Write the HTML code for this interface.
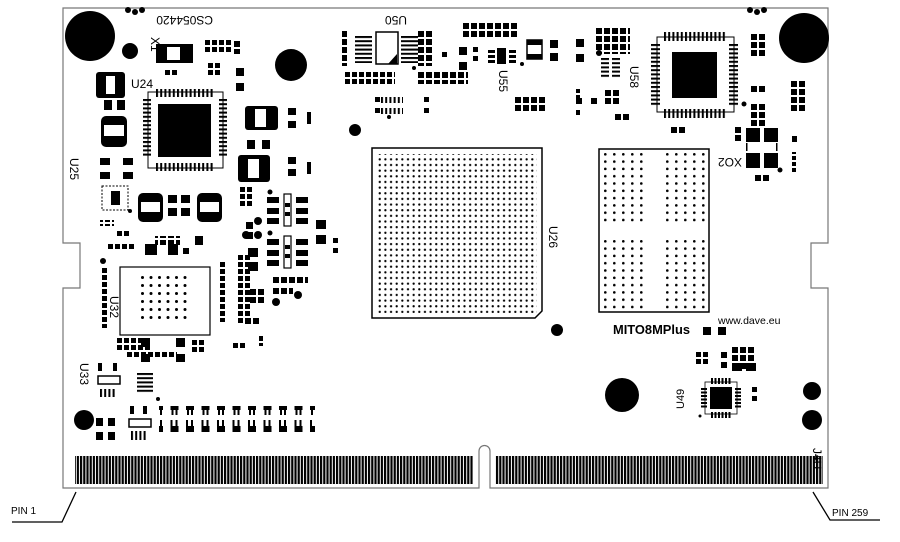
<!DOCTYPE html>
<html><head><meta charset="utf-8"><style>
html,body{margin:0;padding:0;background:#fff;width:900px;height:542px;overflow:hidden}
svg{display:block}
text{font-family:"Liberation Sans",sans-serif;fill:#000}
</style></head><body>
<svg width="900" height="542" viewBox="0 0 900 542" xmlns="http://www.w3.org/2000/svg">
<defs>
<pattern id="p7" width="7" height="7" patternUnits="userSpaceOnUse"><rect width="5" height="5" fill="#000"/></pattern>
<pattern id="p8" width="8" height="8" patternUnits="userSpaceOnUse"><rect width="6" height="6" fill="#000"/></pattern>
<pattern id="p6" width="6" height="6" patternUnits="userSpaceOnUse"><rect width="4" height="4" fill="#000"/></pattern>
<pattern id="bga" width="5.65" height="5.65" patternUnits="userSpaceOnUse"><circle cx="1.2" cy="1.2" r="1.15" fill="#000"/></pattern>
<pattern id="bgb" width="9" height="7.3" patternUnits="userSpaceOnUse"><circle cx="1.3" cy="1.3" r="1.3" fill="#000"/></pattern>
<pattern id="u32" width="8.5" height="8" patternUnits="userSpaceOnUse"><circle cx="1.5" cy="1.5" r="1.5" fill="#000"/></pattern>
<pattern id="fg" width="3.2" height="40" patternUnits="userSpaceOnUse"><rect width="2.2" height="40" fill="#000"/></pattern>
<pattern id="pinv" width="4.2" height="10" patternUnits="userSpaceOnUse"><rect width="2" height="10" fill="#000"/></pattern>
<pattern id="pinh" width="10" height="4.2" patternUnits="userSpaceOnUse"><rect width="10" height="2" fill="#000"/></pattern>
<pattern id="pinv2" width="3.5" height="10" patternUnits="userSpaceOnUse"><rect width="2" height="10" fill="#000"/></pattern>
<pattern id="pinh2" width="10" height="3.5" patternUnits="userSpaceOnUse"><rect width="10" height="2" fill="#000"/></pattern>
<pattern id="tr" width="15.5" height="30" patternUnits="userSpaceOnUse"><rect x="0" y="0" width="2" height="6" fill="#000"/><rect x="5" y="0" width="2" height="6" fill="#000"/><rect x="-0.5" y="6" width="8.5" height="6" fill="#000"/><rect x="0" y="15" width="8" height="5" fill="#000"/><rect x="1" y="20" width="2" height="5" fill="#000"/><rect x="5" y="20" width="2" height="5" fill="#000"/></pattern>
</defs>

<path d="M63,8 H828 V243 H811 V288 H828 V488 H490 V451 A5.5,5.5 0 0 0 479,451 V488 H63 V288 H80 V243 H63 Z" fill="#fff" stroke="#777" stroke-width="1.2"/>

<rect x="75" y="456" width="398" height="28" fill="url(#fg)"/>
<rect x="495" y="456" width="328" height="28" fill="url(#fg)"/>

<polyline points="76,492 62,522 12,522" fill="none" stroke="#000" stroke-width="1.3"/>
<text x="11" y="514" font-size="10">PIN 1</text>
<polyline points="813,492 830,520 880,520" fill="none" stroke="#000" stroke-width="1.3"/>
<text x="832" y="516" font-size="10">PIN 259</text>

<circle cx="90" cy="36" r="25" fill="#000"/>
<circle cx="804" cy="38" r="25" fill="#000"/>
<circle cx="130" cy="51" r="8" fill="#000"/>
<circle cx="291" cy="65" r="16" fill="#000"/>
<circle cx="355" cy="130" r="6" fill="#000"/>
<circle cx="557" cy="330" r="6" fill="#000"/>
<circle cx="622" cy="395" r="17" fill="#000"/>
<circle cx="812" cy="391" r="9" fill="#000"/>
<circle cx="812" cy="420" r="10" fill="#000"/>
<circle cx="84" cy="420" r="10" fill="#000"/>
<circle cx="128" cy="10" r="3" fill="#000"/><circle cx="135" cy="12" r="3" fill="#000"/><circle cx="142" cy="10" r="3" fill="#000"/>
<circle cx="750" cy="10" r="3" fill="#000"/><circle cx="757" cy="12" r="3" fill="#000"/><circle cx="764" cy="10" r="3" fill="#000"/>

<text font-size="12" transform="translate(213,16) rotate(180)">CS054420</text>
<text font-size="12" transform="translate(151,37) rotate(90)">X1</text>
<text x="131" y="88" font-size="12">U24</text>
<text font-size="12" transform="translate(70,158) rotate(90)">U25</text>
<text font-size="12" transform="translate(110,296) rotate(90)">U32</text>
<text font-size="12" transform="translate(80,363) rotate(90)">U33</text>
<text font-size="12" transform="translate(407,16) rotate(180)">U50</text>
<text font-size="12" transform="translate(499,70) rotate(90)">U55</text>
<text font-size="12" transform="translate(630,66) rotate(90)">U58</text>
<text font-size="12" transform="translate(742,158) rotate(180)">XO2</text>
<text font-size="12" transform="translate(549,226) rotate(90)">U26</text>
<text font-size="11" transform="translate(684,409) rotate(-90)">U49</text>
<text font-size="12" transform="translate(813,448) rotate(90)">J4U</text>
<text x="613" y="334" font-size="13" font-weight="bold" textLength="77" lengthAdjust="spacingAndGlyphs">MITO8MPlus</text>
<text x="718" y="324" font-size="10.5">www.dave.eu</text>

<path d="M372,148 H542 V311 L535,318 H372 Z" fill="#fff" stroke="#000" stroke-width="1.5"/>
<rect x="378" y="154" width="159" height="159" fill="url(#bga)"/>
<rect x="599" y="149" width="110" height="163" fill="#fff" stroke="#000" stroke-width="1.5"/>
<g transform="translate(604,153)"><rect width="40" height="73" fill="url(#bgb)"/></g>
<g transform="translate(666,153)"><rect width="40" height="73" fill="url(#bgb)"/></g>
<g transform="translate(604,240)"><rect width="40" height="70" fill="url(#bgb)"/></g>
<g transform="translate(666,240)"><rect width="40" height="70" fill="url(#bgb)"/></g>

<g>
<rect x="148" y="92" width="75" height="76" fill="none" stroke="#000" stroke-width="1"/>
<g transform="translate(156,89)"><rect width="58" height="8" fill="url(#pinv)"/></g>
<g transform="translate(156,163)"><rect width="58" height="8" fill="url(#pinv)"/></g>
<g transform="translate(143,99)"><rect width="8" height="58" fill="url(#pinh)"/></g>
<g transform="translate(219,99)"><rect width="8" height="58" fill="url(#pinh)"/></g>
<rect x="158" y="104" width="53" height="53" fill="#000"/>
</g>
<g>
<rect x="657" y="37" width="77" height="75" fill="none" stroke="#000" stroke-width="1"/>
<g transform="translate(664,32)"><rect width="62" height="9" fill="url(#pinv)"/></g>
<g transform="translate(664,109)"><rect width="62" height="9" fill="url(#pinv)"/></g>
<g transform="translate(651,44)"><rect width="9" height="62" fill="url(#pinh)"/></g>
<g transform="translate(729,44)"><rect width="9" height="62" fill="url(#pinh)"/></g>
<rect x="672" y="52" width="45" height="46" fill="#000"/>
</g>
<g>
<rect x="705" y="382" width="32" height="32" fill="none" stroke="#000" stroke-width="0.8"/>
<g transform="translate(711,378)"><rect width="20" height="6" fill="url(#pinv2)"/></g>
<g transform="translate(711,412)"><rect width="20" height="6" fill="url(#pinv2)"/></g>
<g transform="translate(701,388)"><rect width="6" height="20" fill="url(#pinh2)"/></g>
<g transform="translate(735,388)"><rect width="6" height="20" fill="url(#pinh2)"/></g>
<rect x="710" y="387" width="22" height="22" fill="#000"/>
<circle cx="700" cy="416" r="1.5" fill="#000"/>
</g>
<rect x="752" y="387" width="5" height="5" fill="#000"/><rect x="752" y="396" width="5" height="5" fill="#000"/>

<rect x="120" y="267" width="90" height="68" fill="#fff" stroke="#000" stroke-width="1.2"/>
<g transform="translate(141,276)"><rect width="46" height="48" fill="url(#u32)"/></g>

<rect x="156" y="44" width="37" height="19" fill="#000"/><rect x="167" y="47" width="13" height="13" fill="#fff"/>
<rect x="96" y="72" width="29" height="26" rx="3" fill="#000"/><rect x="106" y="76" width="9" height="18" fill="#fff"/>
<rect x="101" y="116" width="26" height="31" rx="5" fill="#000"/><rect x="104" y="125" width="20" height="11" fill="#fff"/>
<rect x="138" y="193" width="25" height="29" rx="5" fill="#000"/><rect x="141" y="202" width="19" height="10" fill="#fff"/>
<rect x="197" y="193" width="25" height="29" rx="5" fill="#000"/><rect x="200" y="202" width="19" height="10" fill="#fff"/>
<rect x="245" y="106" width="33" height="24" rx="3" fill="#000"/><rect x="255" y="109" width="11" height="18" fill="#fff"/>
<rect x="238" y="155" width="32" height="27" rx="3" fill="#000"/><rect x="248" y="159" width="11" height="19" fill="#fff"/>
<rect x="102" y="186" width="26" height="24" fill="#fff" stroke="#000" stroke-width="1" stroke-dasharray="2 1.5"/>
<rect x="111" y="191" width="9" height="14" fill="#000"/>
<circle cx="130" cy="211" r="2" fill="#000"/>

<g transform="translate(205,40)"><rect width="28" height="14" fill="url(#p7)"/></g>
<rect x="234" y="41" width="6" height="6" fill="#000"/><rect x="234" y="49" width="6" height="5" fill="#000"/>
<g transform="translate(165,70)"><rect width="14" height="7" fill="url(#p7)"/></g>
<g transform="translate(208,63)"><rect width="14" height="14" fill="url(#p7)"/></g>
<rect x="236" y="68" width="8" height="8" fill="#000"/><rect x="236" y="83" width="8" height="8" fill="#000"/>
<rect x="104" y="100" width="8" height="10" fill="#000"/><rect x="117" y="100" width="8" height="10" fill="#000"/>
<rect x="100" y="158" width="10" height="7" fill="#000"/><rect x="100" y="172" width="10" height="7" fill="#000"/>
<rect x="123" y="158" width="10" height="7" fill="#000"/><rect x="123" y="172" width="10" height="7" fill="#000"/>
<rect x="168" y="195" width="9" height="8" fill="#000"/><rect x="181" y="195" width="9" height="8" fill="#000"/>
<rect x="168" y="208" width="9" height="8" fill="#000"/><rect x="181" y="208" width="9" height="8" fill="#000"/>
<rect x="288" y="108" width="8" height="7" fill="#000"/><rect x="288" y="121" width="8" height="7" fill="#000"/><rect x="307" y="112" width="4" height="12" fill="#000"/>
<rect x="288" y="157" width="8" height="7" fill="#000"/><rect x="288" y="169" width="8" height="7" fill="#000"/><rect x="307" y="162" width="4" height="12" fill="#000"/>
<rect x="247" y="140" width="8" height="9" fill="#000"/><rect x="262" y="140" width="8" height="9" fill="#000"/>
<rect x="100" y="220" width="14" height="6" fill="url(#p7)"/>
<g transform="translate(117,231)"><rect width="14" height="7" fill="url(#p7)"/></g>
<rect x="155" y="236" width="25" height="9" fill="url(#p8)"/>
<rect x="195" y="236" width="8" height="9" fill="#000"/>
<g transform="translate(108,244)"><rect width="28" height="7" fill="url(#p7)"/></g>
<rect x="145" y="244" width="12" height="11" fill="#000"/><rect x="168" y="244" width="10" height="11" fill="#000"/><rect x="183" y="248" width="6" height="6" fill="#000"/>
<g transform="translate(102,268)"><rect width="6" height="60" fill="url(#p7)"/></g>
<circle cx="103" cy="261" r="3" fill="#000"/>
<g transform="translate(117,338)"><rect width="35" height="14" fill="url(#p7)"/></g>
<rect x="141" y="338" width="9" height="9" fill="#000"/><rect x="176" y="338" width="9" height="9" fill="#000"/>
<g transform="translate(127,352)"><rect width="50" height="7" fill="url(#p7)"/></g>
<rect x="141" y="354" width="9" height="8" fill="#000"/><rect x="176" y="354" width="9" height="8" fill="#000"/>
<g transform="translate(192,340)"><rect width="14" height="14" fill="url(#p7)"/></g>
<g transform="translate(233,343)"><rect width="14" height="7" fill="url(#p7)"/></g>
<rect x="258" y="334" width="5" height="12" fill="url(#p7)"/>
<g transform="translate(220,262)"><rect width="7" height="60" fill="url(#p7)"/></g>
<g transform="translate(238,255)"><rect width="14" height="70" fill="url(#p7)"/></g>
<g transform="translate(240,187)"><rect width="14" height="21" fill="url(#p7)"/></g>
<rect x="246" y="222" width="7" height="7" fill="#000"/><rect x="246" y="232" width="7" height="7" fill="#000"/>
<circle cx="258" cy="235" r="4" fill="#000"/><circle cx="258" cy="221" r="4" fill="#000"/><circle cx="246" cy="235" r="4" fill="#000"/>
<circle cx="270" cy="192" r="2.5" fill="#000"/><circle cx="270" cy="233" r="2.5" fill="#000"/>
<rect x="248" y="248" width="10" height="9" fill="#000"/><rect x="248" y="262" width="10" height="9" fill="#000"/>
<rect x="267" y="197" width="12" height="6" fill="#000"/><rect x="267" y="208" width="12" height="6" fill="#000"/><rect x="267" y="218" width="12" height="6" fill="#000"/>
<rect x="296" y="197" width="12" height="6" fill="#000"/><rect x="296" y="208" width="12" height="6" fill="#000"/><rect x="296" y="218" width="12" height="6" fill="#000"/>
<rect x="284" y="194" width="7" height="32" fill="#fff" stroke="#000" stroke-width="1.2"/><rect x="285" y="203" width="5" height="4" fill="#000"/><rect x="285" y="212" width="5" height="4" fill="#000"/>
<rect x="267" y="239" width="12" height="6" fill="#000"/><rect x="267" y="250" width="12" height="6" fill="#000"/><rect x="267" y="260" width="12" height="6" fill="#000"/>
<rect x="296" y="239" width="12" height="6" fill="#000"/><rect x="296" y="250" width="12" height="6" fill="#000"/><rect x="296" y="260" width="12" height="6" fill="#000"/>
<rect x="284" y="236" width="7" height="32" fill="#fff" stroke="#000" stroke-width="1.2"/><rect x="285" y="245" width="5" height="4" fill="#000"/><rect x="285" y="254" width="5" height="4" fill="#000"/>
<rect x="316" y="220" width="10" height="9" fill="#000"/><rect x="316" y="235" width="10" height="9" fill="#000"/>
<rect x="333" y="238" width="5" height="5" fill="#000"/><rect x="333" y="248" width="5" height="5" fill="#000"/>
<g transform="translate(273,277)"><rect width="35" height="7" fill="url(#p8)"/></g>
<g transform="translate(273,288)"><rect width="20" height="7" fill="url(#p8)"/></g>
<circle cx="298" cy="295" r="4" fill="#000"/><circle cx="276" cy="302" r="4" fill="#000"/>
<g transform="translate(250,289)"><rect width="16" height="16" fill="url(#p8)"/></g>
<g transform="translate(245,318)"><rect width="16" height="7" fill="url(#p8)"/></g>
<rect x="98" y="363" width="4" height="8" fill="#000"/><rect x="113" y="363" width="4" height="8" fill="#000"/>
<rect x="98" y="376" width="22" height="8" fill="#fff" stroke="#000" stroke-width="1.5"/>
<g transform="translate(100,389)"><rect width="16" height="8" fill="url(#pinv)"/></g>
<g transform="translate(137,373)"><rect width="16" height="20" fill="url(#pinh)"/></g>
<circle cx="158" cy="399" r="2" fill="#000"/>
<rect x="96" y="418" width="7" height="8" fill="#000"/><rect x="108" y="418" width="7" height="8" fill="#000"/>
<rect x="96" y="432" width="7" height="8" fill="#000"/><rect x="108" y="432" width="7" height="8" fill="#000"/>
<rect x="130" y="406" width="4" height="8" fill="#000"/><rect x="143" y="406" width="4" height="8" fill="#000"/>
<rect x="129" y="419" width="22" height="8" fill="#fff" stroke="#000" stroke-width="1.5"/>
<g transform="translate(131,431)"><rect width="16" height="9" fill="url(#pinv)"/></g>
<rect x="159" y="406" width="156" height="26" fill="url(#tr)"/>

<rect x="376" y="32" width="22" height="32" fill="#fff" stroke="#000" stroke-width="1.5"/>
<path d="M388,64 L397,54 V64 Z" fill="#000"/>
<g transform="translate(355,36)"><rect width="17" height="27" fill="url(#pinh)"/></g>
<g transform="translate(401,36)"><rect width="17" height="27" fill="url(#pinh)"/></g>
<g transform="translate(342,31)"><rect width="5" height="35" fill="url(#p8)"/></g>
<circle cx="414" cy="68" r="2" fill="#000"/>
<g transform="translate(345,72)"><rect width="50" height="12" fill="url(#p7)"/></g>
<g transform="translate(418,31)"><rect width="14" height="35" fill="url(#p8)"/></g>
<rect x="442" y="52" width="5" height="5" fill="#000"/>
<g transform="translate(418,72)"><rect width="50" height="12" fill="url(#p8)"/></g>
<g transform="translate(381,97)"><rect width="22" height="6" fill="url(#pinv)"/></g>
<g transform="translate(381,108)"><rect width="22" height="6" fill="url(#pinv)"/></g>
<rect x="375" y="97" width="5" height="5" fill="#000"/><rect x="375" y="108" width="5" height="5" fill="#000"/>
<rect x="424" y="97" width="5" height="5" fill="#000"/><rect x="424" y="108" width="5" height="5" fill="#000"/>
<circle cx="389" cy="117" r="2" fill="#000"/>
<g transform="translate(463,23)"><rect width="56" height="14" fill="url(#p8)"/></g>
<rect x="459" y="47" width="8" height="8" fill="#000"/><rect x="459" y="62" width="8" height="8" fill="#000"/>
<rect x="473" y="47" width="5" height="5" fill="#000"/><rect x="473" y="56" width="5" height="5" fill="#000"/>
<rect x="488" y="50" width="7" height="3" fill="#000"/><rect x="488" y="55" width="7" height="3" fill="#000"/><rect x="488" y="60" width="7" height="3" fill="#000"/>
<rect x="497" y="48" width="9" height="16" fill="#000"/>
<rect x="509" y="50" width="7" height="3" fill="#000"/><rect x="509" y="55" width="7" height="3" fill="#000"/><rect x="509" y="60" width="7" height="3" fill="#000"/>
<circle cx="522" cy="64" r="2" fill="#000"/>
<rect x="527" y="40" width="15" height="19" fill="#fff" stroke="#000" stroke-width="1.5"/>
<rect x="527" y="40" width="15" height="5" fill="#000"/><rect x="527" y="54" width="15" height="5" fill="#000"/>
<rect x="550" y="40" width="8" height="8" fill="#000"/><rect x="550" y="53" width="8" height="8" fill="#000"/>
<g transform="translate(515,97)"><rect width="32" height="14" fill="url(#p8)"/></g>
<rect x="576" y="89" width="4" height="4" fill="#000"/><rect x="576" y="95" width="4" height="4" fill="#000"/><rect x="576" y="110" width="4" height="5" fill="#000"/>
<g transform="translate(596,28)"><rect width="34" height="26" fill="url(#p8)"/></g>
<circle cx="599" cy="53" r="3" fill="#000"/>
<g transform="translate(601,58)"><rect width="8" height="20" fill="url(#pinh)"/></g>
<g transform="translate(612,58)"><rect width="8" height="20" fill="url(#pinh)"/></g>
<g transform="translate(605,90)"><rect width="16" height="16" fill="url(#p8)"/></g>
<g transform="translate(615,114)"><rect width="16" height="7" fill="url(#p8)"/></g>
<rect x="576" y="39" width="8" height="8" fill="#000"/><rect x="576" y="54" width="8" height="8" fill="#000"/>
<rect x="576" y="98" width="6" height="6" fill="#000"/><rect x="591" y="98" width="6" height="6" fill="#000"/>
<g transform="translate(671,127)"><rect width="16" height="7" fill="url(#p8)"/></g>
<g transform="translate(751,34)"><rect width="16" height="24" fill="url(#p8)"/></g>
<g transform="translate(751,86)"><rect width="16" height="7" fill="url(#p8)"/></g>
<g transform="translate(751,104)"><rect width="16" height="24" fill="url(#p8)"/></g>
<circle cx="744" cy="104" r="2.5" fill="#000"/>
<g transform="translate(791,81)"><rect width="16" height="32" fill="url(#p8)"/></g>
<g transform="translate(735,127)"><rect width="7" height="16" fill="url(#p8)"/></g>
<rect x="746" y="128" width="14" height="14" fill="#000"/><rect x="764" y="128" width="14" height="14" fill="#000"/>
<rect x="746" y="153" width="14" height="15" fill="#000"/><rect x="764" y="153" width="14" height="15" fill="#000"/>
<rect x="746" y="143" width="1.5" height="8" fill="#000"/><rect x="776" y="143" width="1.5" height="8" fill="#000"/>
<circle cx="780" cy="170" r="2.5" fill="#000"/>
<g transform="translate(755,175)"><rect width="16" height="7" fill="url(#p8)"/></g>
<rect x="792" y="136" width="5" height="6" fill="#000"/><rect x="792" y="152" width="5" height="20" fill="url(#p6)"/>
<rect x="703" y="327" width="8" height="8" fill="#000"/><rect x="718" y="327" width="8" height="8" fill="#000"/>
<g transform="translate(696,352)"><rect width="14" height="14" fill="url(#p7)"/></g>
<rect x="721" y="352" width="6" height="6" fill="#000"/><rect x="721" y="362" width="6" height="6" fill="#000"/>
<g transform="translate(732,347)"><rect width="22" height="22" fill="url(#p8)"/></g>
<rect x="732" y="363" width="10" height="8" fill="#000"/><rect x="746" y="363" width="10" height="8" fill="#000"/>
</svg>
</body></html>
